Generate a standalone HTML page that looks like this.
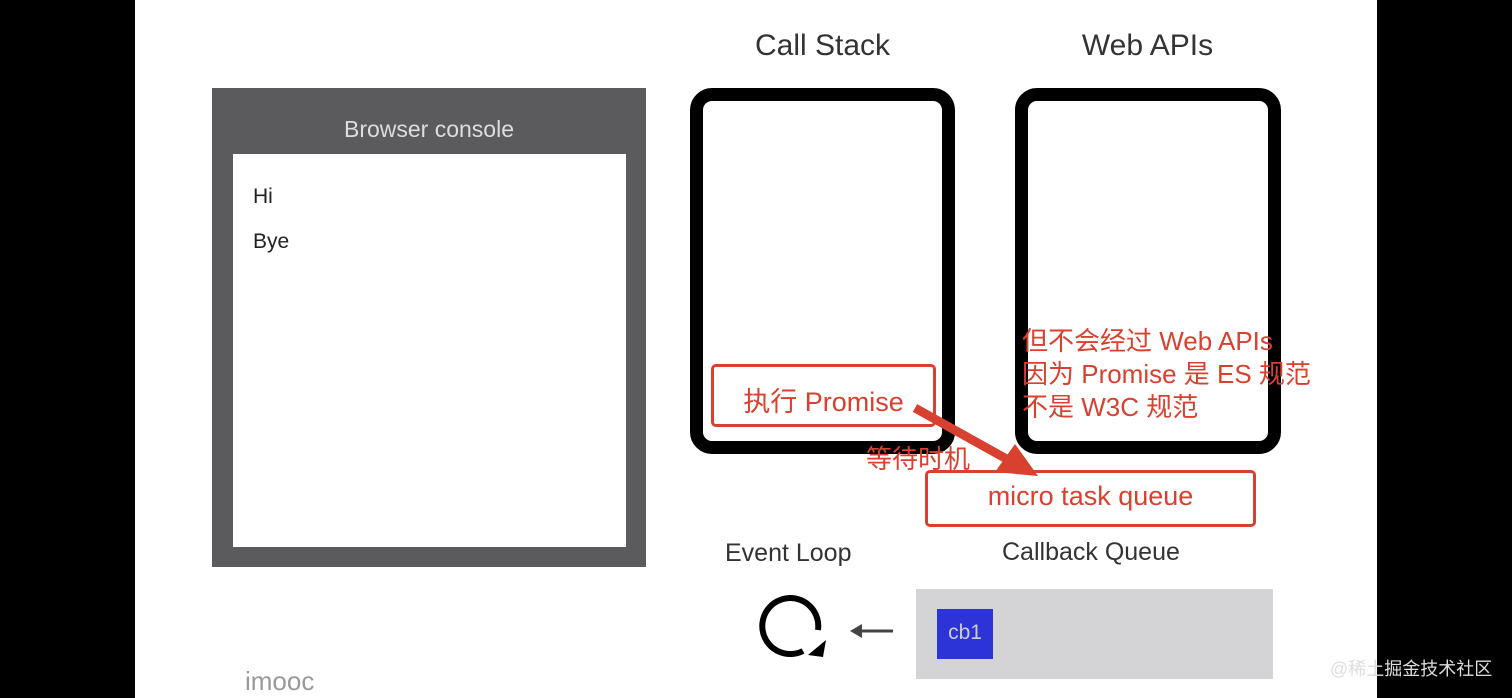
<!DOCTYPE html>
<html><head><meta charset="utf-8"><style>
body{margin:0;width:1512px;height:698px;background:#fff;position:relative;overflow:hidden;font-family:"Liberation Sans","Noto Sans CJK SC",sans-serif}
div{position:absolute;box-sizing:border-box}
.t{white-space:nowrap}
.red{color:#d8412f}
</style></head><body>
<div style="left:0;top:0;width:135px;height:698px;background:#000"></div>
<div style="left:1377px;top:0;width:135px;height:698px;background:#000"></div>

<div style="left:212px;top:88px;width:434px;height:479px;background:#5b5b5d"></div>
<div class="t" style="left:212px;top:116px;width:434px;text-align:center;color:#ddd;font-size:23px">Browser console</div>
<div style="left:233px;top:154px;width:393px;height:393px;background:#fff"></div>
<div class="t" style="left:253px;top:185px;font-size:21px;color:#222">Hi</div>
<div class="t" style="left:253px;top:230px;font-size:21px;color:#222">Bye</div>

<div class="t" style="left:690px;top:29px;width:265px;text-align:center;font-size:30px;color:#333">Call Stack</div>
<div class="t" style="left:1015px;top:29px;width:265px;text-align:center;font-size:30px;color:#333">Web APIs</div>
<div style="left:690px;top:88px;width:265px;height:366px;border:13px solid #000;border-radius:22px"></div>
<div style="left:1015px;top:88px;width:266px;height:366px;border:13px solid #000;border-radius:22px"></div>

<div style="left:711px;top:364px;width:225px;height:63px;border:3px solid #d8412f;border-radius:5px;background:#fff"></div>
<div class="t red" style="left:711px;top:380px;width:225px;text-align:center;font-size:27px">执行 Promise</div>

<div class="t red" style="left:1022px;top:325px;font-size:26px;line-height:33px">但不会经过 Web APIs<br>因为 Promise 是 ES 规范<br>不是 W3C 规范</div>

<div class="t red" style="left:866px;top:439px;font-size:26px">等待时机</div>

<div style="left:925px;top:470px;width:331px;height:57px;border:3px solid #d8412f;border-radius:5px;background:#fff"></div>
<div class="t red" style="left:925px;top:481px;width:331px;text-align:center;font-size:27px">micro task queue</div>

<svg style="position:absolute;left:0;top:0" width="1512" height="698">
<line x1="915" y1="408" x2="1012" y2="462" stroke="#d8412f" stroke-width="9"/>
<polygon points="1038,476 995,472 1015,444" fill="#d8412f"/>
<path d="M803,651 A28,28 0 1 1 818,630" fill="none" stroke="#000" stroke-width="6"/>
<polygon points="808,655 826,640 823,657" fill="#000"/>
<line x1="858" y1="631" x2="893" y2="631" stroke="#444" stroke-width="3"/>
<polygon points="850,631 862,624 862,638" fill="#444"/>
</svg>

<div class="t" style="left:725px;top:539px;font-size:25px;color:#333">Event Loop</div>
<div class="t" style="left:1002px;top:538px;font-size:25px;color:#333">Callback Queue</div>
<div style="left:916px;top:589px;width:357px;height:90px;background:#d4d4d6"></div>
<div style="left:937px;top:609px;width:56px;height:50px;background:#2c34d8"></div>
<div class="t" style="left:937px;top:621px;width:56px;text-align:center;font-size:21px;color:#ccd">cb1</div>

<div class="t" style="left:245px;top:666px;font-size:26px;color:#999">imooc</div>
<div class="t" style="left:1330px;top:655px;font-size:18px;color:#ddd">@稀土掘金技术社区</div>
</body></html>
